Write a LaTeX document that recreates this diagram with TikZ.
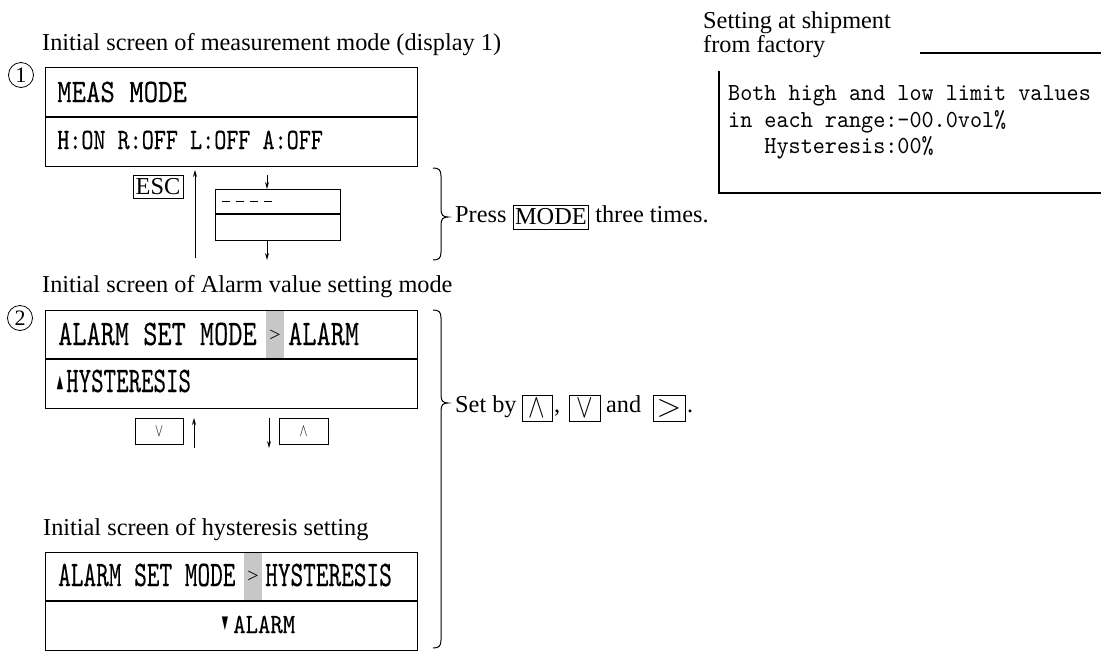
\documentclass[tikz,border=0pt]{standalone}
\usepackage{graphicx}
\usepackage{fontspec}
\setmainfont{Liberation Serif}
\newfontfamily\lcdf{lmmono10-regular}[Extension=.otf, FakeBold=0.3]
\newfontfamily\notef{lmmono10-regular}[Extension=.otf]
\newfontfamily\symf{DejaVu Sans}
\usetikzlibrary{arrows.meta}
\newcommand\lcdtext[3]{\scalebox{#1}[1]{\fontsize{#2}{#2}\selectfont\lcdf #3}}
\newcommand\notetext[3]{\scalebox{#1}[1]{\fontsize{#2}{#2}\selectfont\notef #3}}
\begin{document}
\begin{tikzpicture}[x=1pt,y=-1pt,
  lbl/.style={inner sep=0pt, anchor=base west, font=\fontsize{24.3}{29}\selectfont},
  lcd/.style={inner sep=0pt, anchor=base west},
  frame/.style={draw, line width=1.4pt, inner sep=0pt, anchor=north west},
  divider/.style={line width=1.3pt},
  arr/.style={line width=0.9pt, -{Stealth[length=7pt,width=4pt]}},
  keybox/.style={draw, line width=0.8pt, inner sep=0pt},
  num/.style={draw, circle, line width=0.8pt, minimum size=25pt, inner sep=0pt, font=\fontsize{22}{22}\selectfont},
  brace/.style={line width=1pt},
  hilite/.style={fill=black!22},
  gt/.style={inner sep=0pt, font=\fontsize{20}{20}\selectfont},
  rule/.style={line width=1.2pt}
  ]
\useasboundingbox (0,0) rectangle (1101,651);

% ---------- screen 1 ----------
\node[lbl] (t1) at (42,50) {Initial screen of measurement mode (display 1)};
\node[num] (n1) at (21,75) {1};
\node[frame, minimum width=372pt, minimum height=99pt] (b1) at (45,67) {};
\draw[divider] (45,117) -- (417,117);
\node[lcd] (m1) at (57,102) {\lcdtext{0.84}{32.7}{MEAS MODE}};
\node[lcd] (m2) at (57,149) {\lcdtext{0.78}{29.5}{H:ON R:OFF L:OFF A:OFF}};

\node[keybox, line width=0.9pt, minimum width=50pt, minimum height=23pt,
      font=\fontsize{24.3}{29}\selectfont] (esc) at (158,186.5) {ESC};
\coordinate (u1a) at (195,258);
\coordinate (u1b) at (195,170);
\draw[arr] (u1a) -- (u1b);

\node[frame, line width=1.2pt, minimum width=125pt, minimum height=51pt] (sub) at (215,189) {};
\draw[divider, line width=1.2pt] (215,214) -- (340,214);
\draw[line width=1pt, dash pattern=on 8pt off 6pt] (222,201) -- (273,201);
\coordinate (d1) at (267,175);
\coordinate (d2) at (267,260);
\draw[arr] (d1) -- (d1 |- sub.north);
\draw[arr] (d1 |- sub.south) -- (d2);

\draw[brace] (433,168) .. controls (439,168) and (441,170) .. (441,176) -- (441,209)
  .. controls (441,215) and (443,217) .. (448,217)
  .. controls (443,217) and (441,219) .. (441,225) -- (441,252)
  .. controls (441,258) and (439,260) .. (433,260);

\node[lbl] (press) at (455,222) {Press};
\path (press.base east) ++(6,-5) node[keybox, anchor=west, inner xsep=2pt, minimum height=24pt,
      font=\fontsize{24.3}{29}\selectfont] (modekey) {MODE};
\path (modekey.east |- press.base) ++(6,0) node[lbl] (three) {three times.};

% ---------- top right ----------
\node[lbl] (s1) at (703,28) {Setting at shipment};
\node[lbl] (s2) at (703,52) {from factory};
\coordinate (hl1) at (920,53);
\coordinate (hl2) at (1101,53);
\draw[rule] (hl1) -- (hl2);
\coordinate (v1) at (719,71);
\coordinate (v2) at (719,193);
\coordinate (v3) at (1101,193);
\draw[rule] (v1) -- (v2) -- (v3);
\node[lcd] (f1) at (728,100) {\notetext{0.94}{24.5}{Both high and low limit values}};
\node[lcd] (f2) at (728,127) {\notetext{0.94}{24.5}{in each range:-00.0vol\%}};
\node[lcd] (f3) at (728,153) {\notetext{0.94}{24.5}{\phantom{xxx}Hysteresis:00\%}};

% ---------- screen 2 ----------
\node[lbl] (t2) at (42,292) {Initial screen of Alarm value setting mode};
\node[num] (n2) at (20,318) {2};
\fill[hilite] (266,310) rectangle (284,359);
\node[frame, minimum width=372pt, minimum height=98pt] (b2) at (45,310) {};
\draw[divider] (45,359) -- (417,359);
\node[lcd] (r21) at (58,345) {\lcdtext{0.75}{36}{ALARM SET MODE}};
\node[gt] (gt2) at (275,336) {>};
\node[lcd] (r22) at (288,345) {\lcdtext{0.75}{36}{ALARM}};
\node[inner sep=0pt, font=\fontsize{18}{18}\selectfont] (tri1) at (60,383) {\symf\scalebox{0.45}[1]{▲}};
\node[lcd] (r23) at (66,392) {\lcdtext{0.66}{36}{HYSTERESIS}};

\node[keybox, minimum width=48pt, minimum height=26pt, font=\fontsize{12}{12}\selectfont] (kdn) at (159,431) {\scalebox{1}[1.5]{$\vee$}};
\node[keybox, minimum width=49pt, minimum height=26pt, font=\fontsize{12}{12}\selectfont] (kup) at (303.5,431) {\scalebox{1}[1.5]{$\wedge$}};
\coordinate (u2a) at (194,448);
\coordinate (u2b) at (194,418);
\draw[arr] (u2a) -- (u2b);
\coordinate (d3a) at (269,418);
\coordinate (d3b) at (269,448);
\draw[arr] (d3a) -- (d3b);

\node[lbl] (setby) at (455,412) {Set by};
\node[keybox, minimum width=30pt, minimum height=26pt, font=\fontsize{24}{24}\selectfont] (ka) at (537,408) {\scalebox{1}[1.35]{$\wedge$}};
\node[lbl] (comma) at (554,412) {,};
\node[keybox, minimum width=31pt, minimum height=26pt, font=\fontsize{24}{24}\selectfont] (kv) at (584.5,408) {\scalebox{1}[1.35]{$\vee$}};
\node[lbl] (and) at (606,412) {and};
\node[keybox, minimum width=32pt, minimum height=26pt, font=\fontsize{24}{24}\selectfont] (kg) at (669,408) {\scalebox{1.3}{$>$}};
\node[lbl] (dot) at (687,412) {.};

\draw[brace] (433,310) .. controls (439,310) and (441,312) .. (441,318) -- (441,395)
  .. controls (441,401) and (443,403) .. (448,403)
  .. controls (443,403) and (441,405) .. (441,411) -- (441,640)
  .. controls (441,646) and (439,648) .. (433,648);

% ---------- screen 3 ----------
\node[lbl] (t3) at (43,535) {Initial screen of hysteresis setting};
\fill[hilite] (244,552) rectangle (262,601);
\node[frame, minimum width=372pt, minimum height=98pt] (b3) at (45,552) {};
\draw[divider] (45,601) -- (417,601);
\node[lcd] (r31) at (58,586) {\lcdtext{0.67}{36}{ALARM SET MODE}};
\node[gt] (gt3) at (253,577) {>};
\node[lcd] (r32) at (265,586) {\lcdtext{0.67}{36}{HYSTERESIS}};
\node[inner sep=0pt, font=\fontsize{18}{18}\selectfont] (tri2) at (225,624) {\symf\scalebox{0.45}[1]{▼}};
\node[lcd] (r34) at (233,633) {\lcdtext{0.85}{27.8}{ALARM}};
\end{tikzpicture}
\end{document}
